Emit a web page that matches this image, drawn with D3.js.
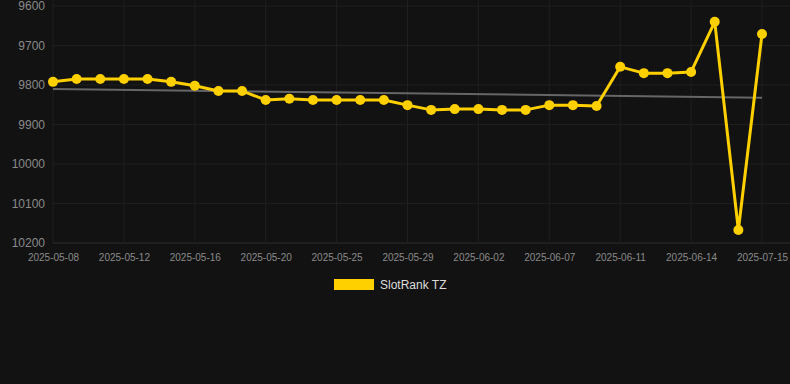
<!DOCTYPE html>
<html>
<head>
<meta charset="utf-8">
<script src="https://cdn.jsdelivr.net/npm/d3@7"></script>
<style>
  body { margin: 0; background: #121212; }
  svg { display: block; font-family: "Liberation Sans", Arial, sans-serif; }
</style>
</head>
<body>
<svg width="790" height="384"></svg>
<script>
let dates = ['2025-05-08', '2025-05-09', '2025-05-10', '2025-05-12', '2025-05-13', '2025-05-14',
    '2025-05-16', '2025-05-17', '2025-05-18', '2025-05-20', '2025-05-21', '2025-05-23',
    '2025-05-25', '2025-05-26', '2025-05-27', '2025-05-29', '2025-05-30', '2025-05-31',
    '2025-06-02', '2025-06-03', '2025-06-05', '2025-06-07', '2025-06-08', '2025-06-09',
    '2025-06-11', '2025-06-12', '2025-06-13', '2025-06-14', '2025-06-15', '2025-07-14', '2025-07-15'];
let ranks = [9792, 9785, 9785, 9785, 9785, 9792, 9802, 9815, 9815, 9838, 9835, 9838,
    9838, 9838, 9838, 9851, 9863, 9861, 9861, 9863, 9863, 9851, 9851, 9853,
    9754, 9770, 9770, 9767, 9640, 10167, 9671];
let trend = [9810, 9832];
let yTicks = [9600, 9700, 9800, 9900, 10000, 10100, 10200];
let seriesName = 'SlotRank TZ';

let svg = d3.select("svg");
let gold = '#ffd000';

let x = d3.scalePoint().domain(dates).range([53, 762]);
let y = d3.scaleLinear().domain([9600, 10200]).range([6, 243]);

let tickDates = dates.filter(function(d, i) {return i % 3 == 0});

// grid
svg.append('g').selectAll('line').data(yTicks).enter().append('line')
    .attr('x1', 53).attr('x2', 790)
    .attr('y1', function(d) {return y(d)}).attr('y2', function(d) {return y(d)})
    .attr('stroke', function(d) {return d == 10200 ? '#2c2c2c' : '#1f1f1f'});
svg.append('g').selectAll('line').data(tickDates).enter().append('line')
    .attr('x1', function(d) {return x(d)}).attr('x2', function(d) {return x(d)})
    .attr('y1', 0).attr('y2', 243)
    .attr('stroke', '#1f1f1f');

// axes
let yAxis = svg.append('g').attr('transform', 'translate(45,0)')
    .call(d3.axisLeft(y).tickValues(yTicks).tickSize(0).tickFormat(d3.format('d')));
yAxis.select('.domain').remove();
yAxis.selectAll('text').attr('fill', '#8a8a8a').style('font-size', '12px').attr('x', 0);

let xAxis = svg.append('g').attr('transform', 'translate(0,243)')
    .call(d3.axisBottom(x).tickValues(tickDates).tickSize(0));
xAxis.select('.domain').remove();
xAxis.selectAll('text').attr('fill', '#8a8a8a').style('font-size', '10px').attr('dy', '1.45em');

// trend line
svg.append('line')
    .attr('x1', x(dates[0])).attr('x2', x(dates[dates.length - 1]))
    .attr('y1', y(trend[0])).attr('y2', y(trend[1]))
    .attr('stroke', '#666').attr('stroke-width', 2);

// series
let line = d3.line()
    .x(function(d, i) {return x(dates[i])})
    .y(function(d) {return y(d)});
svg.append('path').datum(ranks)
    .attr('d', line)
    .attr('fill', 'none')
    .attr('stroke', gold)
    .attr('stroke-width', 3)
    .attr('stroke-linejoin', 'round');
svg.append('g').selectAll('circle').data(ranks).enter().append('circle')
    .attr('cx', function(d, i) {return x(dates[i])})
    .attr('cy', function(d) {return y(d)})
    .attr('r', 5)
    .attr('fill', gold);

// legend
svg.append('rect').attr('x', 334).attr('y', 279).attr('width', 40).attr('height', 11).attr('fill', gold);
svg.append('text').attr('x', 380).attr('y', 289).text(seriesName)
    .attr('fill', '#dddddd').style('font-size', '12px');
</script>
</body>
</html>
